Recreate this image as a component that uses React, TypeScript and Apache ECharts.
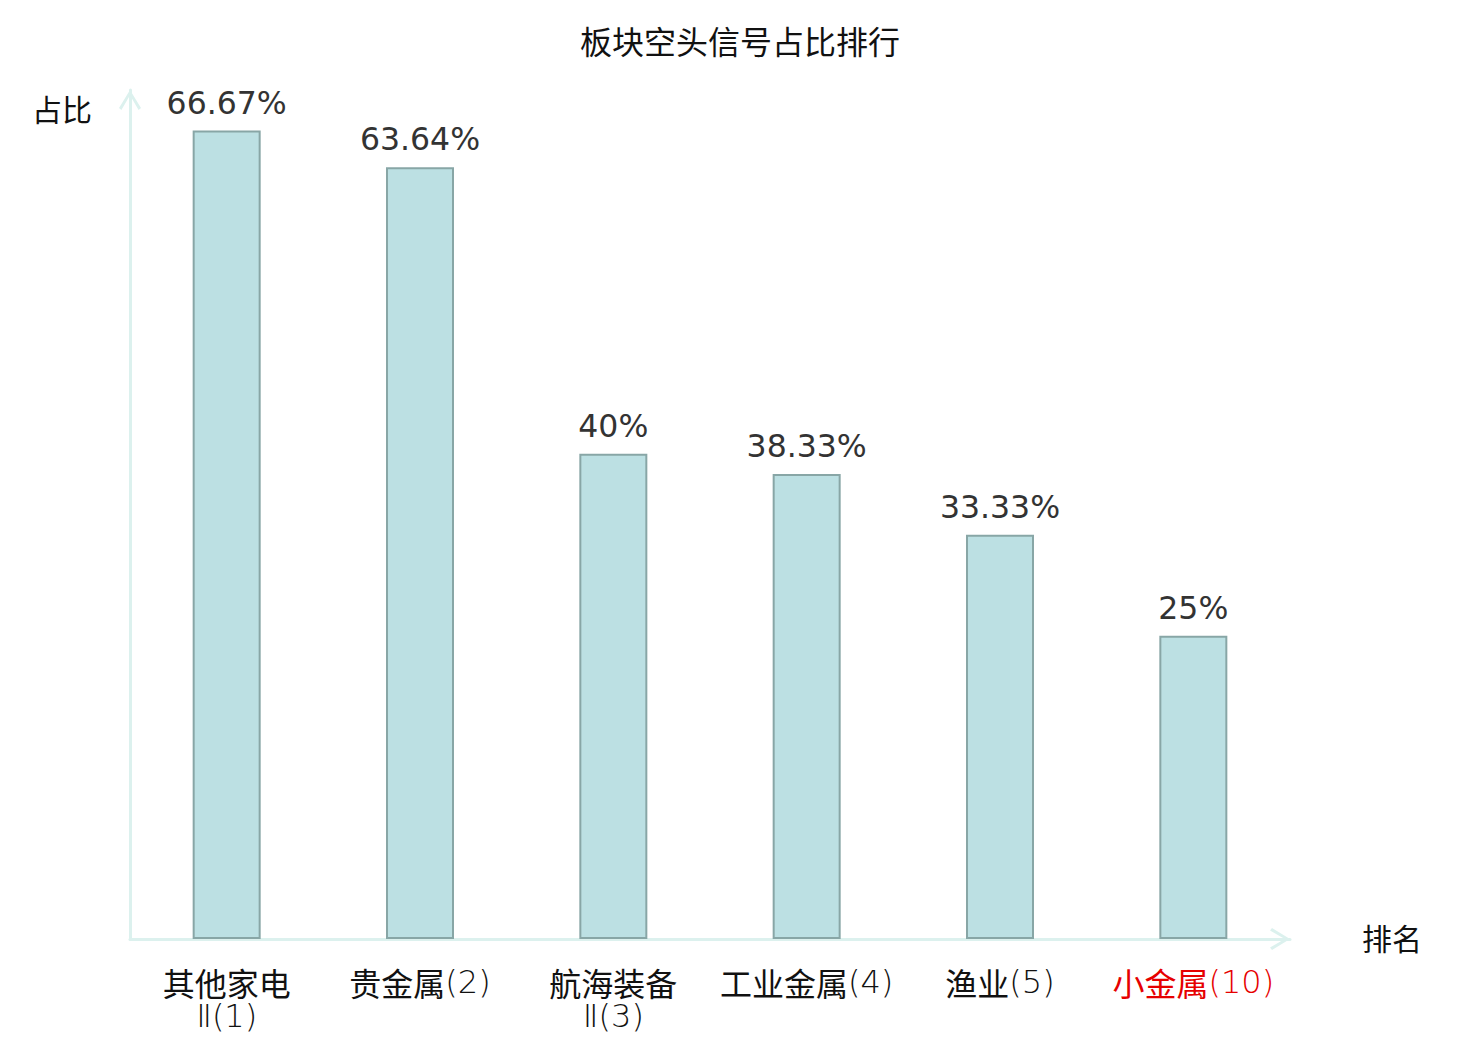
import React, { useEffect, useRef } from "react";
import * as echarts from "echarts";

const titleText = "板块空头信号占比排行";
const categories = ["其他家电\nⅡ(1)", "贵金属(2)", "航海装备\nⅡ(3)", "工业金属(4)", "渔业(5)", "小金属(10)"];
const highlighted = ["小金属(10)"];
const values = [66.67, 63.64, 40, 38.33, 33.33, 25];
const yAxisName = "占比";
const xAxisName = "排名";

const FONT = "DejaVu Sans, 'Noto Sans CJK SC', sans-serif";
const CJK_FONT = "'Noto Sans CJK SC', sans-serif";
const LATIN_FONT = "'DejaVu Sans', sans-serif";
const AXIS_COLOR = "#dcf1ee";
const ARROW = "path://M0 18 L11 0 L22 18 L19.6 20 L11 5.2 L2.4 20 Z";
const LABEL_SIZE = 32;
const LABEL_LH = 34;

const isCJK = (ch: string) => /[\u3400-\u9fff\uf900-\ufaff]/.test(ch);

function richLabel(value: string) {
  const red = highlighted.includes(value);
  return value
    .split("\n")
    .map((line) => {
      let out = "";
      let run = "";
      let runCJK: boolean | null = null;
      const flush = () => {
        if (run) out += `{${runCJK ? "c" : "l"}${red ? "r" : ""}|${run}}`;
        run = "";
      };
      for (const ch of line) {
        const c = isCJK(ch);
        if (runCJK !== null && c !== runCJK) flush();
        runCJK = c;
        run += ch;
      }
      flush();
      return out;
    })
    .join("\n");
}

const cjkStyle = { fontFamily: CJK_FONT, fontSize: LABEL_SIZE, lineHeight: LABEL_LH, fontWeight: "normal" };
const latinStyle = { fontFamily: LATIN_FONT, fontSize: LABEL_SIZE, lineHeight: LABEL_LH, fontWeight: 200 };

export default function App() {
  const ref = useRef<HTMLDivElement>(null);
  useEffect(() => {
    if (!ref.current) return;
    const chart = echarts.init(ref.current, undefined, { renderer: "svg" });
    chart.setOption({
      animation: false,
      backgroundColor: "#ffffff",
      title: {
        text: titleText,
        left: "center",
        top: 22,
        textStyle: { fontFamily: FONT, fontSize: 32, fontWeight: "normal", color: "#111" },
      },
      grid: { left: 130, right: 190, top: 90, bottom: 101, containLabel: false },
      xAxis: {
        type: "category",
        data: categories,
        name: xAxisName,
        nameGap: 72,
        nameTextStyle: { fontFamily: FONT, fontSize: 30, color: "#111" },
        axisLine: {
          lineStyle: { color: AXIS_COLOR, width: 3 },
          symbol: ["none", ARROW],
          symbolSize: [22, 20],
          symbolOffset: [0, -10],
        },
        axisTick: { show: false },
        axisLabel: {
          fontSize: LABEL_SIZE,
          lineHeight: LABEL_LH,
          color: "#111",
          margin: 26,
          interval: 0,
          formatter: (v: string) => richLabel(v),
          rich: {
            c: { ...cjkStyle, color: "#111" },
            l: { ...latinStyle, color: "#111" },
            cr: { ...cjkStyle, color: "#e60000" },
            lr: { ...latinStyle, color: "#e60000" },
          },
        },
      },
      yAxis: {
        type: "value",
        min: 0,
        max: 70,
        name: yAxisName,
        nameLocation: "end",
        nameGap: -20,
        nameTextStyle: {
          fontFamily: FONT,
          fontSize: 30,
          color: "#111",
          align: "right",
          verticalAlign: "middle",
          padding: [0, 38, 0, 0],
        },
        axisLine: {
          show: true,
          lineStyle: { color: AXIS_COLOR, width: 3 },
          symbol: ["none", ARROW],
          symbolSize: [22, 20],
          symbolOffset: [0, -10],
        },
        axisTick: { show: false },
        axisLabel: { show: false },
        splitLine: { show: false },
      },
      series: [
        {
          type: "bar",
          data: values,
          barWidth: 68,
          itemStyle: { color: "#bce0e3", borderColor: "#88a6a6", borderWidth: 2 },
          label: {
            show: true,
            position: "top",
            distance: 12,
            formatter: (p: any) => `${p.value}%`,
            fontFamily: FONT,
            fontSize: 31.5,
            color: "#333",
          },
        },
      ],
    });
    return () => chart.dispose();
  }, []);
  return (
    <div
      ref={ref}
      style={{ position: "fixed", left: 0, top: 0, width: 1480, height: 1040, background: "#fff" }}
    />
  );
}
